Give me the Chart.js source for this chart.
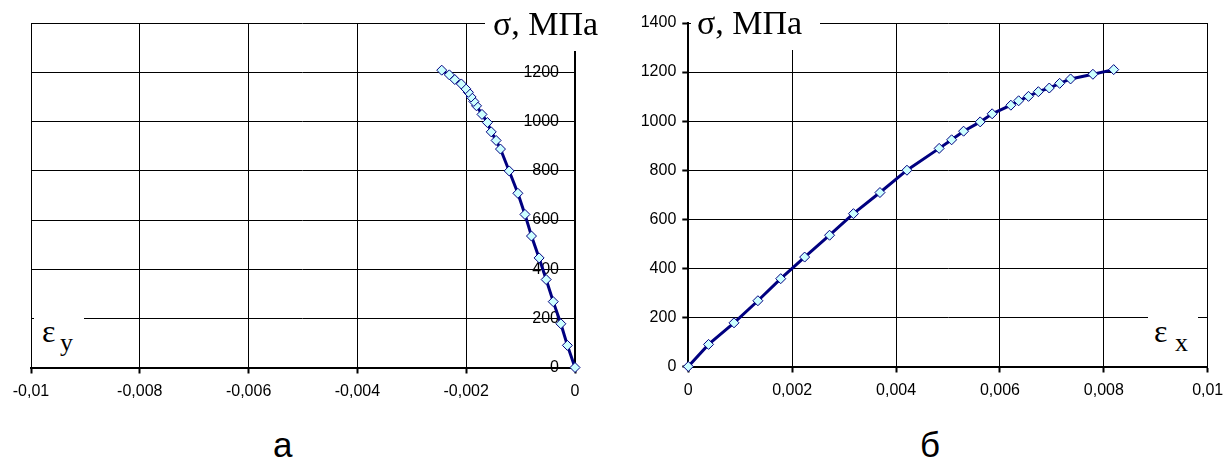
<!DOCTYPE html>
<html>
<head>
<meta charset="utf-8">
<script src="https://cdn.jsdelivr.net/npm/chart.js@4"></script>
<style>
  body { margin: 0; background: #fff; }
  #wrap { position: relative; width: 1226px; height: 459px; overflow: hidden; background: #fff; }
  canvas { position: absolute; top: 0; }
  .box { position: absolute; background: #fff; }
  .box span { position: absolute; font-family: "Liberation Serif", "Times New Roman", serif; color: #000; white-space: nowrap; line-height: 1; }
  .cap { position: absolute; font-family: "Liberation Sans", Arial, sans-serif; font-size: 35px; line-height: 1; }
</style>
</head>
<body>
<div id="wrap">
  <canvas id="chartY" width="610" height="420" style="left:0"></canvas>
  <canvas id="chartX" width="630" height="420" style="left:610px"></canvas>

  <div class="box" style="left:485px;top:0;width:120px;height:51px;"><span style="left:8px;top:7px;font-size:34px;">σ, МПа</span></div>
  <div class="box" style="left:691px;top:0;width:129px;height:50px;"><span style="left:6px;top:6px;font-size:34px;">σ, МПа</span></div>

  <div class="box" style="left:34px;top:310px;width:50px;height:50px;"><span style="left:8px;top:5px;font-size:32px;">ε</span><span style="left:26px;top:20px;font-size:26px;">y</span></div>
  <div class="box" style="left:1148px;top:310px;width:50px;height:50px;"><span style="left:6px;top:5px;font-size:32px;">ε</span><span style="left:27px;top:20px;font-size:26px;">x</span></div>

  <div class="cap" style="left:273px;top:427px;">а</div>
  <div class="cap" style="left:920px;top:427px;">б</div>
</div>

<script>
// stress, MPa (same load steps for both gauges)
const stress = [0, 90, 178, 268, 358, 446, 535, 623, 709, 800, 889, 924, 959, 997, 1030, 1065, 1083, 1101, 1120, 1135, 1154, 1172, 1191, 1210];

// transverse strain (a)
const strainY = [0, -0.00014, -0.00026, -0.0004, -0.00053, -0.00066, -0.0008, -0.00092, -0.00105, -0.00121, -0.00137, -0.00145,
  -0.00154, -0.00161, -0.00171, -0.00181, -0.00186, -0.00191, -0.00196, -0.00201, -0.00209, -0.00221, -0.00231, -0.00245];

// longitudinal strain (б)
const strainX = [0, 0.00039, 0.00088, 0.00134, 0.00178, 0.00224, 0.00272, 0.00318, 0.00369, 0.00421, 0.00483, 0.00507,
  0.0053, 0.00562, 0.00585, 0.00621, 0.00636, 0.00655, 0.00674, 0.00695, 0.00715, 0.00736, 0.00779, 0.00819];

// tick labels
const ticksStrainY = [-0.01, -0.008, -0.006, -0.004, -0.002, 0];
const ticksStrainX = [0, 0.002, 0.004, 0.006, 0.008, 0.01];
const ticksStress = [0, 200, 400, 600, 800, 1000, 1200, 1400];

const tickFont = { family: "'Liberation Sans', Arial, sans-serif", size: 16 };
const fmt = v => String(v).replace('.', ',');

function points(xs) {
  return xs.map((x, i) => ({ x: x, y: stress[i] }));
}

function dataset(xs) {
  return {
    data: points(xs),
    showLine: true,
    borderColor: '#000080',
    borderWidth: 3,
    pointStyle: 'rectRot',
    pointRadius: 5,
    pointBackgroundColor: '#ccffff',
    pointBorderColor: '#000080',
    pointBorderWidth: 1,
    tension: 0,
    clip: false
  };
}

function xScale(min, max, vals) {
  return {
    type: 'linear', position: 'bottom', min: min, max: max,
    afterBuildTicks: s => { s.ticks = vals.map(v => ({ value: v })); },
    ticks: { callback: v => fmt(v), font: tickFont, color: '#000', padding: 8, maxRotation: 0, autoSkip: false },
    grid: { color: '#000', lineWidth: 1, tickLength: 6, tickWidth: 2, tickColor: '#000' },
    border: { color: '#000', width: 2 }
  };
}

const common = {
  responsive: false,
  animation: false,
  events: [],
  plugins: { legend: { display: false }, tooltip: { enabled: false } }
};

//  chart a (ε_y) - axis on the right, labels inside
const chartY = new Chart(document.getElementById('chartY'), {
  type: 'scatter',
  data: { datasets: [dataset(strainY)] },
  options: {
    ...common,
    layout: { padding: { left: 31, right: 35, top: 23.5, bottom: 11.3 } },
    scales: {
      x: xScale(-0.01, 0, ticksStrainY),
      y: {
        type: 'linear', position: 'right', min: 0, max: 1400,
        afterBuildTicks: s => { s.ticks = ticksStress.map(v => ({ value: v })); },
        afterFit: s => { s.width = 0; },
        ticks: { mirror: true, padding: -16, font: tickFont, color: '#000', callback: v => fmt(v) },
        grid: { color: '#000', lineWidth: 1, drawTicks: false },
        border: { color: '#000', width: 2 }
      }
    }
  }
});

//  chart б (ε_x)
const chartX = new Chart(document.getElementById('chartX'), {
  type: 'scatter',
  data: { datasets: [dataset(strainX)] },
  options: {
    ...common,
    layout: { padding: { left: 24.7, right: 32.3, top: 23, bottom: 12.3 } },
    scales: {
      x: xScale(0, 0.01, ticksStrainX),
      y: {
        type: 'linear', position: 'left', min: 0, max: 1400,
        afterBuildTicks: s => { s.ticks = ticksStress.map(v => ({ value: v })); },
        ticks: { padding: 6, font: tickFont, color: '#000', callback: v => fmt(v) },
        grid: { color: '#000', lineWidth: 1, tickLength: 6, tickWidth: 2, tickColor: '#000' },
        border: { color: '#000', width: 2 }
      }
    }
  }
});
</script>
</body>
</html>
